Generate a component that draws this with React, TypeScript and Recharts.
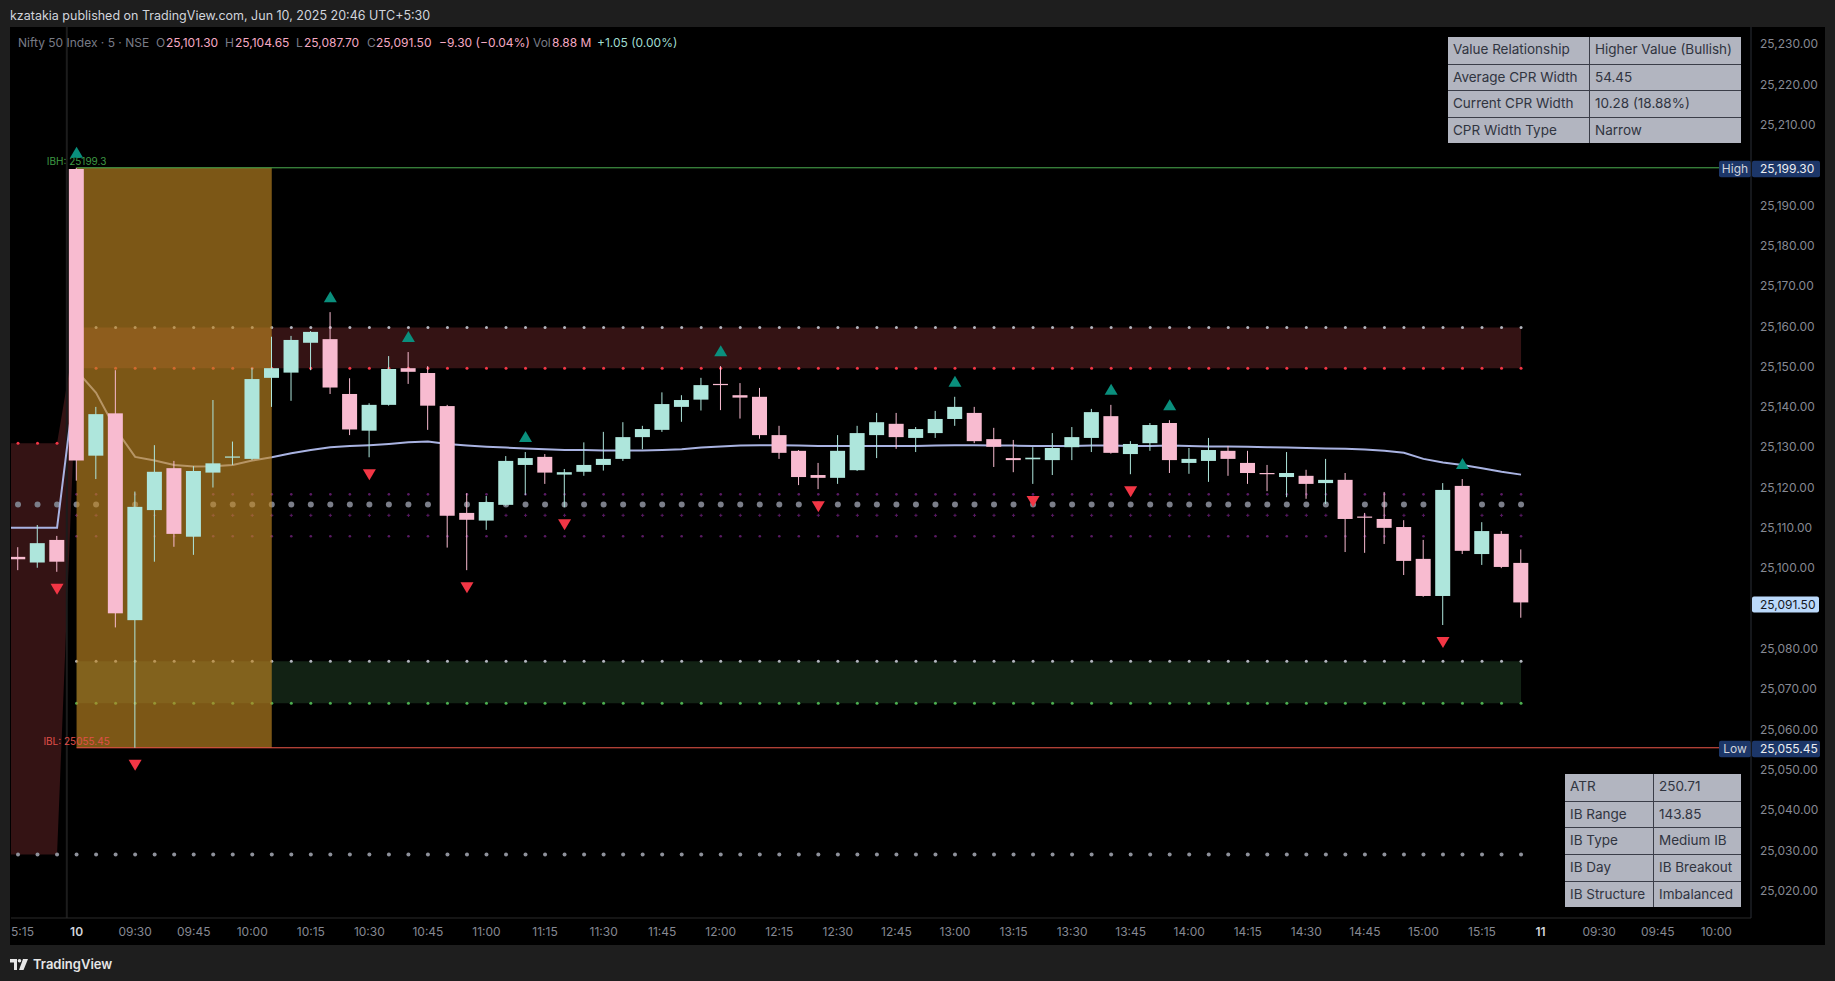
import React from "react";
import {
  ComposedChart,
  XAxis,
  YAxis,
  Area,
  Line,
  Bar,
  Scatter,
  ReferenceLine,
} from "recharts";

const FONT = "Inter, 'Noto Sans', sans-serif";

// candle 0..2 = Jun 9 15:15-15:25, candle 3..77 = Jun 10 09:15-15:25 (5 min)
const opens = [
  25102.8, 25101.4, 25107.0, 25199.0, 25127.9, 25138.4, 25087.1, 25114.4, 25124.8, 25107.8,
  25123.7, 25127.4, 25127.1, 25147.2, 25148.5, 25155.9, 25156.8, 25143.2, 25134.1, 25140.5,
  25149.6, 25148.4, 25140.2, 25113.7, 25111.8, 25115.7, 25125.6, 25127.6, 25123.2, 25123.9,
  25125.6, 25127.1, 25132.5, 25134.3, 25140.0, 25141.8, 25145.7, 25142.9, 25142.5, 25133.0,
  25129.1, 25123.1, 25122.4, 25124.3, 25133.0, 25135.8, 25132.3, 25133.5, 25137.0, 25138.5,
  25132.0, 25127.3, 25127.0, 25126.8, 25130.0, 25132.3, 25137.7, 25128.3, 25131.0, 25136.0,
  25126.1, 25126.6, 25129.1, 25126.1, 25123.6, 25122.6, 25122.9, 25121.1, 25121.9, 25112.8,
  25112.2, 25110.2, 25102.3, 25093.1, 25120.4, 25103.5, 25108.5, 25101.3,
];
const highs = [
  25105.2, 25110.7, 25108.0, 25199.3, 25140.0, 25149.1, 25119.0, 25130.5, 25126.6, 25125.3,
  25141.7, 25131.4, 25149.7, 25157.4, 25157.6, 25158.8, 25163.5, 25147.1, 25140.9, 25152.6,
  25153.6, 25150.1, 25140.5, 25118.6, 25117.9, 25127.8, 25128.8, 25128.3, 25124.6, 25131.2,
  25133.8, 25136.2, 25135.3, 25143.6, 25142.9, 25147.2, 25150.1, 25145.9, 25144.7, 25135.3,
  25129.3, 25126.1, 25133.0, 25135.3, 25138.5, 25138.5, 25135.0, 25139.0, 25142.5, 25140.0,
  25134.8, 25131.8, 25130.0, 25133.5, 25135.0, 25139.5, 25140.5, 25131.5, 25136.0, 25136.7,
  25129.8, 25132.3, 25130.3, 25129.1, 25125.6, 25128.8, 25124.4, 25127.1, 25123.6, 25113.7,
  25118.9, 25111.9, 25107.0, 25121.1, 25122.1, 25111.4, 25109.2, 25104.65,
];
const lows = [
  25099.5, 25100.1, 25099.1, 25121.7, 25122.1, 25085.3, 25055.45, 25101.6, 25105.3, 25103.3,
  25120.0, 25125.6, 25126.8, 25140.0, 25141.5, 25149.1, 25143.2, 25133.0, 25127.5, 25140.3,
  25145.7, 25134.3, 25105.1, 25099.5, 25109.5, 25115.5, 25118.1, 25120.9, 25115.1, 25122.9,
  25124.2, 25126.6, 25129.5, 25133.8, 25136.3, 25139.1, 25139.2, 25137.1, 25132.1, 25127.1,
  25120.6, 25119.6, 25120.9, 25124.1, 25127.3, 25129.6, 25128.8, 25132.3, 25135.3, 25131.0,
  25125.1, 25123.8, 25120.9, 25123.1, 25126.8, 25128.8, 25128.4, 25123.3, 25129.1, 25123.6,
  25123.4, 25121.4, 25122.9, 25120.9, 25119.1, 25117.6, 25117.2, 25115.9, 25104.0, 25103.8,
  25106.0, 25098.3, 25092.9, 25085.9, 25103.5, 25100.8, 25100.0, 25087.7,
];
const closes = [
  25102.2, 25106.2, 25101.6, 25126.7, 25138.2, 25088.8, 25115.2, 25123.9, 25108.5, 25124.1,
  25126.0, 25127.7, 25146.9, 25149.6, 25156.6, 25158.6, 25144.8, 25134.4, 25140.5, 25149.4,
  25148.7, 25140.3, 25113.0, 25112.0, 25116.4, 25126.6, 25127.3, 25123.7, 25123.8, 25125.6,
  25127.1, 25132.5, 25134.5, 25140.7, 25141.7, 25145.4, 25145.4, 25142.3, 25133.0, 25128.6,
  25122.6, 25122.4, 25129.1, 25133.5, 25136.2, 25132.5, 25134.5, 25137.0, 25140.0, 25131.5,
  25130.1, 25126.8, 25127.4, 25129.8, 25132.5, 25138.7, 25128.6, 25130.8, 25135.5, 25126.8,
  25127.1, 25129.3, 25127.1, 25123.6, 25123.4, 25123.6, 25120.9, 25121.9, 25112.2, 25112.5,
  25110.0, 25101.8, 25093.1, 25119.4, 25104.3, 25109.2, 25100.3, 25091.5,
];

// vwap for index -1..77
const vwap = [
  25110.0, 25110.0, 25110.0, 25110.0, 25149.0, 25143.5, 25134.5, 25127.6, 25126.7, 25125.6,
  25125.2, 25125.3, 25125.6, 25126.7, 25127.5, 25128.5, 25129.3, 25130.0, 25130.3, 25130.5,
  25130.8, 25131.2, 25131.4, 25130.8, 25130.4, 25130.1, 25129.9, 25129.7, 25129.5, 25129.3,
  25129.3, 25129.2, 25129.2, 25129.2, 25129.3, 25129.5, 25129.9, 25130.2, 25130.4, 25130.5,
  25130.5, 25130.4, 25130.3, 25130.3, 25130.3, 25130.3, 25130.3, 25130.3, 25130.4, 25130.5,
  25130.5, 25130.4, 25130.4, 25130.3, 25130.3, 25130.3, 25130.4, 25130.4, 25130.3, 25130.3,
  25130.4, 25130.3, 25130.2, 25130.2, 25130.1, 25130.0, 25129.9, 25129.8, 25129.7, 25129.6,
  25129.4, 25129.1, 25128.6, 25127.1, 25126.2, 25125.6, 25124.8, 25123.9, 25123.2,
];

const prevDayBand = [25029.0, 25131.0];
const cprBand = [25149.6, 25159.7];
const lowerBand = [25066.5, 25076.9];
const ibRange = [25055.45, 25199.3];
const pivotLevel = 25115.8;
const purpleLevels = [25118.3, 25113.1, 25107.9];
const bottomLevel = 25029.0;
const lastPrice = 25091.5;

const upSignals = [3, 16, 20, 26, 36, 48, 56, 59, 74];
const downSignals = [2, 6, 18, 23, 28, 41, 52, 57, 73];

const xTickIndex = [0, 3, 6, 9, 12, 15, 18, 21, 24, 27, 30, 33, 36, 39, 42, 45, 48, 51, 54, 57, 60, 63, 66, 69, 72, 75, 78, 81, 84, 87];
const xTickText = [
  "5:15", "10", "09:30", "09:45", "10:00", "10:15", "10:30", "10:45", "11:00", "11:15",
  "11:30", "11:45", "12:00", "12:15", "12:30", "12:45", "13:00", "13:15", "13:30", "13:45",
  "14:00", "14:15", "14:30", "14:45", "15:00", "15:15", "11", "09:30", "09:45", "10:00",
];
// 25,200 and 25,090 sit under the High / last price tags
const yTicks = [
  25020, 25030, 25040, 25050, 25060, 25070, 25080, 25100, 25110, 25120,
  25130, 25140, 25150, 25160, 25170, 25180, 25190, 25210, 25220, 25230,
];

const cprRows = [
  ["Value Relationship", "Higher Value (Bullish)"],
  ["Average CPR Width", "54.45"],
  ["Current CPR Width", "10.28 (18.88%)"],
  ["CPR Width Type", "Narrow"],
];
const ibRows = [
  ["ATR", "250.71"],
  ["IB Range", "143.85"],
  ["IB Type", "Medium IB"],
  ["IB Day", "IB Breakout"],
  ["IB Structure", "Imbalanced"],
];

const FIRST_DAY10 = 3;
const LAST = 77;
const X_DOMAIN = [-0.359, 88.78];
const Y_DOMAIN = [25013.23, 25234.22];

const BULL = "#aee6dc";
const BEAR = "#f8bbd0";
const NAVY = "#1c3668";

const candles = opens.map((o, i) => ({ i, o, h: highs[i], l: lows[i], c: closes[i] }));
const vwapData = vwap.map((v, k) => ({ i: k - 1, v }));
const bandData = vwap.map((_, k) => ({
  i: k - 1,
  band: k - 1 < FIRST_DAY10 ? prevDayBand : cprBand,
}));
const lowerData = candles.filter((d) => d.i >= FIRST_DAY10).map((d) => ({ i: d.i, band: lowerBand }));
const ibData = candles.filter((d) => d.i >= 3 && d.i <= 13).map((d) => ({ i: d.i, band: ibRange }));

const levelRow = (from: number, y: number) =>
  candles.filter((d) => d.i >= from && d.i <= LAST).map((d) => ({ i: d.i, y }));

const fmt = (v: number) =>
  v.toLocaleString("en-US", { minimumFractionDigits: 2, maximumFractionDigits: 2 });

const CandleShape = (props: any) => {
  const { x, y, width, height } = props;
  const p = props.payload || props;
  if (p == null || p.o == null || x == null) return null;
  const top = Math.min(y, y + height);
  const hgt = Math.abs(height);
  const span = p.h - p.l || 1;
  const toY = (v: number) => top + ((p.h - v) / span) * hgt;
  const color = p.c >= p.o ? BULL : BEAR;
  const cx = x + width / 2;
  const bt = toY(Math.max(p.o, p.c));
  const bb = toY(Math.min(p.o, p.c));
  return (
    <g>
      <line x1={cx} x2={cx} y1={top} y2={top + hgt} stroke={color} strokeWidth={1} />
      <rect x={x} y={bt} width={width} height={Math.max(1.2, bb - bt)} fill={color} />
    </g>
  );
};

const dot = (r: number, fill: string) => (p: any) =>
  p.cx == null ? null : <circle cx={p.cx} cy={p.cy} r={r} fill={fill} />;

const plus = (fill: string) => (p: any) =>
  p.cx == null ? null : (
    <path d={`M${p.cx - 1.6},${p.cy}h3.2M${p.cx},${p.cy - 1.6}v3.2`} stroke={fill} strokeWidth={1} />
  );

const upTri = (p: any) =>
  p.cx == null ? null : (
    <polygon
      points={`${p.cx - 6.5},${p.cy - 10} ${p.cx + 6.5},${p.cy - 10} ${p.cx},${p.cy - 21}`}
      fill="#0a8f7d"
    />
  );
const downTri = (p: any) =>
  p.cx == null ? null : (
    <polygon
      points={`${p.cx - 6.5},${p.cy + 12} ${p.cx + 6.5},${p.cy + 12} ${p.cx},${p.cy + 23}`}
      fill="#f23645"
    />
  );

const XTick = (props: any) => {
  const { x, y, payload } = props;
  const k = xTickIndex.indexOf(Math.round(payload.value));
  const label = k >= 0 ? xTickText[k] : "";
  const isDay = label.length <= 2;
  // the first label is cut by the pane edge in the original, keep it inside
  const atEdge = x < 20;
  return (
    <text
      x={atEdge ? 1 : x}
      y={y + 10}
      textAnchor={atEdge ? "start" : "middle"}
      fill={isDay ? "#d1d4dc" : "#868993"}
      fontSize={12}
      fontWeight={isDay ? 600 : 400}
      fontFamily={FONT}
    >
      {label}
    </text>
  );
};

const ibLabel = (text: string, color: string, tag: string, value: number) => (props: any) => {
  const vb = props.viewBox || {};
  const x0 = vb.x;
  const y0 = vb.y;
  const x1 = vb.x + vb.width;
  return (
    <g fontFamily={FONT}>
      <text x={x0} y={y0 - 2.5} textAnchor="middle" fill={color} fontSize={10}>
        {text}
      </text>
      <rect x={x1 - 32} y={y0 - 7} width={32} height={16.5} fill={NAVY} rx={2} />
      <text x={x1 - 16} y={y0 + 5.5} textAnchor="middle" fill="#d1d4dc" fontSize={12}>
        {tag}
      </text>
      <rect x={x1 + 1} y={y0 - 7} width={68} height={16.5} fill={NAVY} rx={2} />
      <text x={x1 + 9} y={y0 + 5.5} fill="#eceef2" fontSize={12}>
        {fmt(value)}
      </text>
    </g>
  );
};

const priceLabel = (props: any) => {
  const vb = props.viewBox || {};
  const x1 = vb.x + vb.width;
  const y0 = vb.y;
  return (
    <g fontFamily={FONT}>
      <rect x={x1 + 1} y={y0 - 6} width={67} height={16} fill="#bbd9fb" rx={2} />
      <text x={x1 + 9} y={y0 + 6.5} fill="#131722" fontSize={12}>
        {fmt(lastPrice)}
      </text>
    </g>
  );
};

function InfoTable({ rows, left, top, c1, c2, rowH }: any) {
  return (
    <div style={{ position: "absolute", left, top, width: c1 + c2, background: "#b2b5c0" }}>
      {rows.map((r: string[], k: number) => (
        <div key={k} style={{ display: "flex", height: rowH, borderTop: k ? "1px solid #3a3d48" : "none", boxSizing: "border-box" }}>
          <div style={{ width: c1, paddingLeft: 5, borderRight: "1px solid #3a3d48", boxSizing: "border-box", lineHeight: `${rowH - 1}px`, fontSize: 13.5, color: "#30343f", whiteSpace: "nowrap" }}>
            {r[0]}
          </div>
          <div style={{ width: c2, paddingLeft: 5, boxSizing: "border-box", lineHeight: `${rowH - 1}px`, fontSize: 13.5, color: "#30343f", whiteSpace: "nowrap" }}>
            {r[1]}
          </div>
        </div>
      ))}
    </div>
  );
}

const legendParts: [string, number, string][] = [
  ["Nifty 50 Index · 5 · NSE", 18, "#787b86"],
  ["O", 156, "#787b86"],
  ["25,101.30", 166, "#f5a9c3"],
  ["H", 225, "#787b86"],
  ["25,104.65", 235, "#f5a9c3"],
  ["L", 296, "#787b86"],
  ["25,087.70", 304, "#f5a9c3"],
  ["C", 367, "#787b86"],
  ["25,091.50", 376, "#f5a9c3"],
  ["−9.30 (−0.04%)", 439, "#f5a9c3"],
  ["Vol", 533, "#787b86"],
  ["8.88 M", 552, "#f5a9c3"],
  ["+1.05 (0.00%)", 597, "#9fdccf"],
];

export default function App() {
  return (
    <div
      style={{
        position: "absolute",
        left: 0,
        top: 0,
        width: 1835,
        height: 981,
        background: "#1e1e1e",
        fontFamily: FONT,
        overflow: "hidden",
      }}
    >
      <div style={{ position: "absolute", left: 10, top: 8, fontSize: 12.5, lineHeight: "15px", color: "#d1d4dc" }}>
        kzatakia published on TradingView.com, Jun 10, 2025 20:46 UTC+5:30
      </div>

      <div style={{ position: "absolute", left: 10, top: 27, width: 1815, height: 918, background: "#000", overflow: "hidden" }}>
        <ComposedChart width={1815} height={918} data={candles} margin={{ top: 0, right: 0, bottom: 0, left: 1 }}>
          <XAxis
            dataKey="i"
            type="number"
            domain={X_DOMAIN}
            allowDataOverflow
            ticks={xTickIndex}
            interval={0}
            height={27}
            tick={<XTick />}
            tickLine={false}
            axisLine={{ stroke: "#2b2b2b" }}
          />
          <YAxis
            orientation="right"
            type="number"
            domain={Y_DOMAIN}
            allowDataOverflow
            ticks={yTicks}
            interval={0}
            width={74}
            tickFormatter={fmt}
            tick={{ fill: "#868993", fontSize: 12, fontFamily: FONT }}
            tickLine={false}
            tickMargin={3}
            axisLine={{ stroke: "#2b2e36" }}
          />

          <Area data={bandData} dataKey="band" type="linear" stroke="none" fill="#341314" fillOpacity={1} isAnimationActive={false} dot={false} activeDot={false} zIndex={10} />
          <Area data={lowerData} dataKey="band" type="linear" stroke="none" fill="#122214" fillOpacity={1} isAnimationActive={false} dot={false} activeDot={false} zIndex={10} />

          <ReferenceLine x={2.5} stroke="#1c1c1c" strokeWidth={2} zIndex={15} />

          <Scatter data={levelRow(FIRST_DAY10, cprBand[1])} dataKey="y" shape={dot(1.5, "#b2b5be")} isAnimationActive={false} zIndex={20} />
          <Scatter data={levelRow(FIRST_DAY10, cprBand[0])} dataKey="y" shape={dot(1.5, "#f23645")} isAnimationActive={false} zIndex={20} />
          <Scatter data={candles.filter((d) => d.i < FIRST_DAY10).map((d) => ({ i: d.i, y: prevDayBand[1] }))} dataKey="y" shape={dot(1.5, "#f23645")} isAnimationActive={false} zIndex={20} />
          <Scatter data={levelRow(FIRST_DAY10, purpleLevels[0])} dataKey="y" shape={dot(1.3, "#5a1a64")} isAnimationActive={false} zIndex={20} />
          <Scatter data={levelRow(FIRST_DAY10, purpleLevels[1])} dataKey="y" shape={plus("#5a1a64")} isAnimationActive={false} zIndex={20} />
          <Scatter data={levelRow(FIRST_DAY10, purpleLevels[2])} dataKey="y" shape={dot(1.3, "#5a1a64")} isAnimationActive={false} zIndex={20} />
          <Scatter data={levelRow(0, pivotLevel)} dataKey="y" shape={dot(3, "#7b7e89")} isAnimationActive={false} zIndex={20} />
          <Scatter data={levelRow(FIRST_DAY10, lowerBand[1])} dataKey="y" shape={dot(1.5, "#b2b5be")} isAnimationActive={false} zIndex={20} />
          <Scatter data={levelRow(FIRST_DAY10, lowerBand[0])} dataKey="y" shape={dot(1.5, "#4caf50")} isAnimationActive={false} zIndex={20} />
          <Scatter data={levelRow(0, bottomLevel)} dataKey="y" shape={dot(2, "#8e919b")} isAnimationActive={false} zIndex={20} />

          <Line data={vwapData} dataKey="v" type="linear" stroke="#a9b3e2" strokeWidth={2} dot={false} activeDot={false} isAnimationActive={false} zIndex={30} />

          <Area data={ibData} dataKey="band" type="linear" stroke="none" fill="#bf8622" fillOpacity={0.65} isAnimationActive={false} dot={false} activeDot={false} zIndex={40} />

          <ReferenceLine
            segment={[{ x: 3, y: ibRange[1] }, { x: X_DOMAIN[1], y: ibRange[1] }]}
            stroke="#4caf50"
            strokeWidth={1}
            zIndex={45}
            label={ibLabel(`IBH: ${ibRange[1]}`, "#3e9a45", "High", ibRange[1])}
          />
          <ReferenceLine
            segment={[{ x: 3, y: ibRange[0] }, { x: X_DOMAIN[1], y: ibRange[0] }]}
            stroke="#f0584a"
            strokeWidth={1}
            zIndex={45}
            label={ibLabel(`IBL: ${ibRange[0]}`, "#e0504a", "Low", ibRange[0])}
          />

          <Bar dataKey={(d: any) => [d.l, d.h]} barSize={15} shape={CandleShape} isAnimationActive={false} zIndex={50} />

          <Scatter data={upSignals.map((i) => ({ i, y: highs[i] }))} dataKey="y" shape={upTri} isAnimationActive={false} zIndex={60} />
          <Scatter data={downSignals.map((i) => ({ i, y: lows[i] }))} dataKey="y" shape={downTri} isAnimationActive={false} zIndex={60} />

          <ReferenceLine y={lastPrice} stroke="transparent" zIndex={70} label={priceLabel} />
        </ComposedChart>
      </div>

      {legendParts.map(([t, x, c], k) => (
        <span key={k} style={{ position: "absolute", left: x, top: 35, fontSize: 12, lineHeight: "15px", color: c, whiteSpace: "nowrap" }}>
          {t}
        </span>
      ))}

      <InfoTable rows={cprRows} left={1448} top={37} c1={142} c2={151} rowH={26.6} />
      <InfoTable rows={ibRows} left={1565} top={774} c1={89} c2={87} rowH={26.7} />

      <svg style={{ position: "absolute", left: 10, top: 959 }} width={18} height={11}>
        <path d="M0 0h7v11H4V3.5H0z" fill="#e6e6e6" />
        <circle cx={9.5} cy={1.8} r={1.8} fill="#e6e6e6" />
        <path d="M13 0h5l-4.5 11H9z" fill="#e6e6e6" />
      </svg>
      <div style={{ position: "absolute", left: 33, top: 956, fontSize: 13, lineHeight: "16px", fontWeight: 600, color: "#e6e6e6" }}>
        TradingView
      </div>
    </div>
  );
}
